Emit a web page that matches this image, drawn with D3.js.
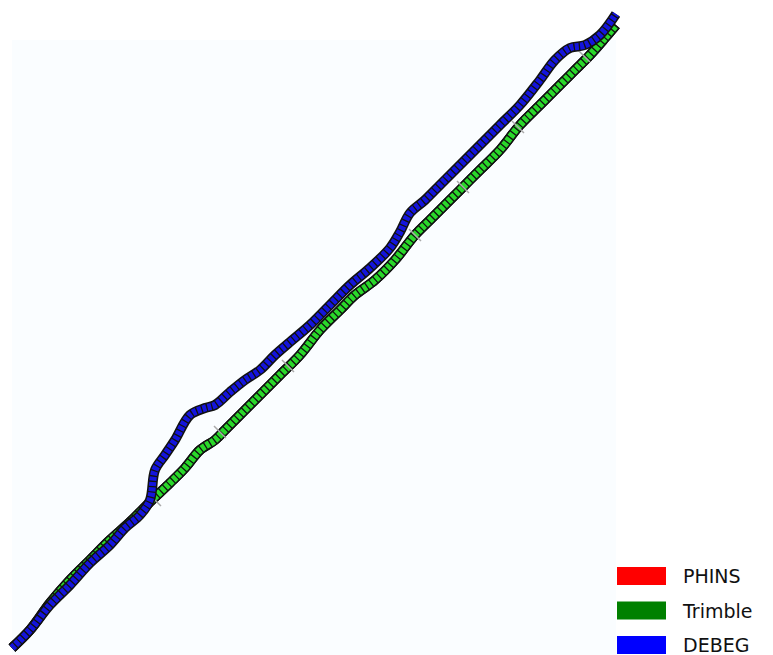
<!DOCTYPE html>
<html>
<head>
<meta charset="utf-8">
<title>PHINS / Trimble / DEBEG</title>
<script src="https://cdn.jsdelivr.net/npm/d3@7"></script>
<style>
  body { margin: 0; background: #fff; }
  svg { display: block; }
  .leg text { font-family: "DejaVu Sans", sans-serif; font-size: 19px; fill: #111; }
</style>
</head>
<body>
<div id="chart"></div>
<script>
// trajectories (arbitrary plane units, east / north)
var debegX = [0, 18, 38, 58, 78, 98, 113, 128, 138, 143, 153, 163, 178, 193, 203, 218, 233, 248, 263, 278, 298, 318, 338, 358, 378, 388, 398, 413, 428, 448, 468, 488, 508, 528, 543, 558, 573, 588, 604];
var debegY = [0, 18, 43, 63, 85, 103, 120, 133, 148, 178, 193, 208, 233, 240, 243, 256, 268, 278, 293, 306, 323, 343, 363, 380, 400, 416, 435, 448, 463, 483, 503, 523, 543, 568, 588, 600, 603, 613, 634];

var trimbleX = [0, 18, 38, 58, 78, 98, 118, 138, 158, 173, 188, 203, 213, 228, 248, 268, 288, 308, 328, 343, 363, 383, 403, 418, 438, 453, 468, 488, 508, 528, 548, 563, 578, 593, 604];
var trimbleY = [0, 18, 45, 68, 88, 108, 126, 146, 165, 180, 198, 208, 218, 233, 253, 273, 293, 318, 338, 353, 368, 388, 413, 428, 448, 463, 478, 498, 523, 543, 563, 578, 593, 610, 623];

// PHINS lies under the Trimble track
var phinsX = trimbleX.slice();
var phinsY = trimbleY.slice();

// grey gap marks along the Trimble track
var gapX = [143, 208, 276, 403, 451, 506, 572];
var gapY = [148, 216, 282, 413, 461, 521, 592];

var seriesNames = ["PHINS", "Trimble", "DEBEG"];
var seriesColors = ["#ff0000", "#008000", "#0000ff"];

var width = 773, height = 655;

var svg = d3.select("#chart").append("svg")
  .attr("width", width)
  .attr("height", height);

// faint plot area
svg.append("rect")
  .attr("x", 12).attr("y", 40)
  .attr("width", 604).attr("height", 615)
  .attr("fill", "#fafdff");

var x = d3.scaleLinear().domain([0, 604]).range([12, 616]);
var y = d3.scaleLinear().domain([0, 636]).range([648, 12]);

function pts(xs, ys) { return xs.map(function(v, i) { return [v, ys[i]]; }); }

var line = d3.line()
  .x(function(d) { return x(d[0]); })
  .y(function(d) { return y(d[1]); })
  .curve(d3.curveCatmullRom.alpha(0.5));

function track(data, fill) {
  var g = svg.append("g");
  g.append("path")
    .attr("d", line(data))
    .attr("fill", "none")
    .attr("stroke", "#111")
    .attr("stroke-width", 10)
    .attr("stroke-linejoin", "round");
  g.append("path")
    .attr("d", line(data))
    .attr("fill", "none")
    .attr("stroke", fill)
    .attr("stroke-width", 7)
    .attr("stroke-dasharray", "4,1.3");
  return g;
}

track(pts(phinsX, phinsY), "#ff0000");
var tg = track(pts(trimbleX, trimbleY), "#2ad82a");

tg.selectAll("line.gap")
  .data(pts(gapX, gapY))
  .enter().append("line")
  .attr("class", "gap")
  .attr("x1", function(d) { return x(d[0]) - 6; })
  .attr("y1", function(d) { return y(d[1]) - 6; })
  .attr("x2", function(d) { return x(d[0]) + 6; })
  .attr("y2", function(d) { return y(d[1]) + 6; })
  .attr("stroke", "#aaa")
  .attr("stroke-width", 1.5);

track(pts(debegX, debegY), "#1414dd");

// legend
var leg = svg.append("g").attr("class", "leg");
seriesNames.forEach(function(n, i) {
  leg.append("rect")
    .attr("x", 617).attr("y", 567 + i * 34.5)
    .attr("width", 49).attr("height", 18)
    .attr("fill", seriesColors[i]);
  leg.append("text")
    .attr("x", 683).attr("y", 583 + i * 34.5)
    .text(n);
});
</script>
</body>
</html>
